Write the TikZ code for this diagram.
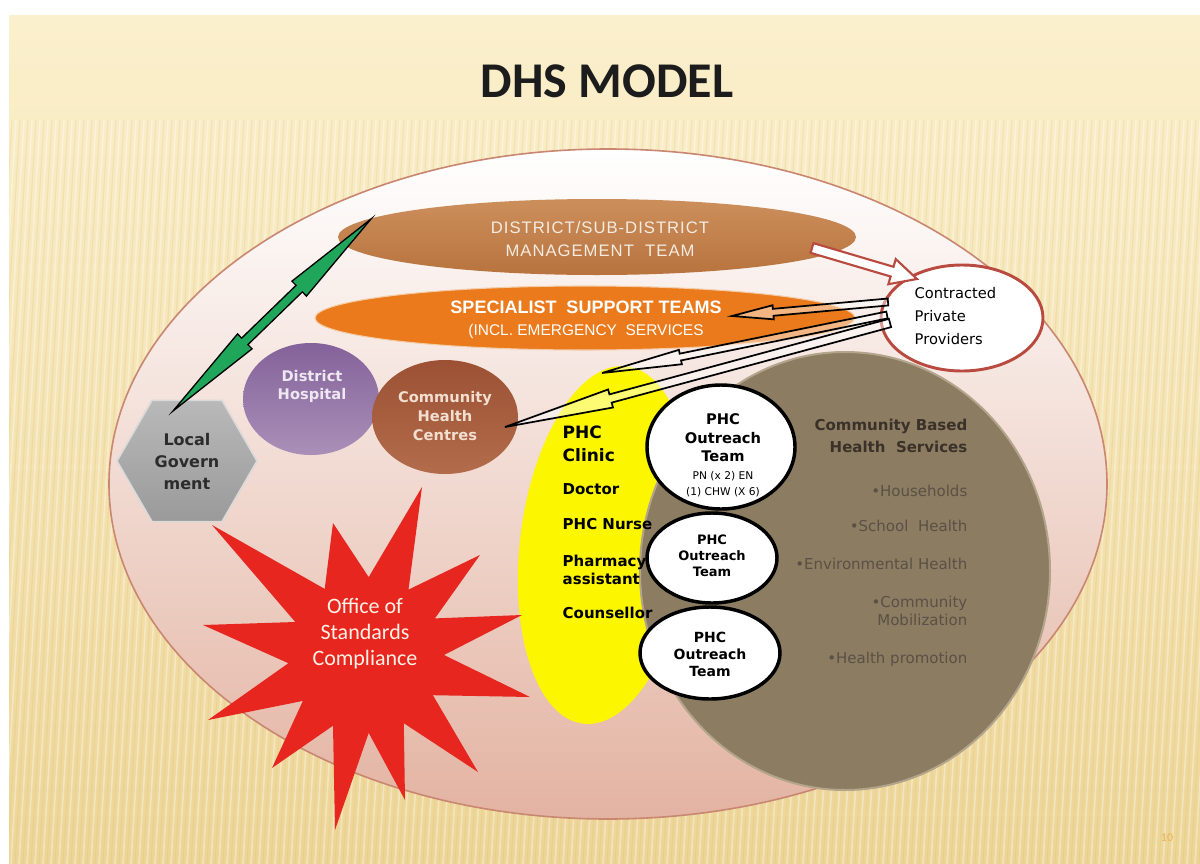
\documentclass[tikz,border=0pt]{standalone}
\usepackage{fontspec}
\setmainfont{DejaVu Sans}
\newfontfamily\carlito{Carlito}
\newfontfamily\libsans{Liberation Sans}
\newfontfamily\libspaced[LetterSpace=6]{Liberation Sans}
\usetikzlibrary{shapes.geometric,calc}

\definecolor{bgtop}{HTML}{FBF0CD}
\definecolor{bgbot}{HTML}{EDD596}
\definecolor{stripe}{HTML}{D9BC78}
\definecolor{titlecol}{HTML}{1C1C1C}
\definecolor{outerline}{HTML}{C98670}
\definecolor{outermid}{HTML}{F6E4DC}
\definecolor{outerpink}{HTML}{E3B3A2}
\definecolor{mgmttop}{HTML}{CC8F5C}
\definecolor{mgmtbot}{HTML}{B8733E}
\definecolor{mgmttext}{HTML}{F4ECE2}
\definecolor{sstfill}{HTML}{EA7A1C}
\definecolor{sstrim}{HTML}{F4CDA8}
\definecolor{dhtop}{HTML}{84629A}
\definecolor{dhbot}{HTML}{AA90B8}
\definecolor{dhtext}{HTML}{EEE8F2}
\definecolor{chctop}{HTML}{9C5134}
\definecolor{chcbot}{HTML}{B26C4C}
\definecolor{chctext}{HTML}{F2DFCF}
\definecolor{hextop}{HTML}{B9B9B9}
\definecolor{hexbot}{HTML}{9A9A9A}
\definecolor{hexline}{HTML}{DADADA}
\definecolor{hextext}{HTML}{2C2C2C}
\definecolor{phcyellow}{HTML}{FCF600}
\definecolor{cbhs}{HTML}{8C7C62}
\definecolor{cbhsedge}{HTML}{B3A48C}
\definecolor{cbhead}{HTML}{3A3128}
\definecolor{cbtext}{HTML}{5B5045}
\definecolor{starred}{HTML}{E6261F}
\definecolor{startext}{HTML}{FFF1E4}
\definecolor{cppline}{HTML}{B84A40}
\definecolor{greenarrow}{HTML}{1FA65A}
\definecolor{pagenum}{HTML}{E6B45C}

\tikzset{
  shapebox/.style={ellipse, inner sep=0pt},
  outreach/.style={ellipse, inner sep=0pt, fill=white, draw=black, line width=2.6pt},
  hollowblack/.style={draw=black, line width=1.3pt, fill=white, fill opacity=0.45, line join=miter},
  phcitem/.style={anchor=west, text=black, font=\bfseries\fontsize{11.25}{13}\selectfont},
  cbitem/.style={anchor=east, text=cbtext, font=\fontsize{11.25}{14}\selectfont},
  ortext/.style={align=center, text=black},
}

% hollow single arrow: style, tail, tip, half shaft width, half head width, head length
\newcommand{\harrow}[6]{%
  \coordinate (hN) at ($(#3)!#6!(#2)$);
  \draw[#1] ($(#2)!#4!90:(#3)$) -- ($(hN)!#4!90:(#3)$) -- ($(hN)!#5!90:(#3)$) -- (#3)
    -- ($(hN)!#5!-90:(#3)$) -- ($(hN)!#4!-90:(#3)$) -- ($(#2)!#4!-90:(#3)$) -- cycle;}
% double-headed arrow: style, end A, end B, half shaft width, half head width, head length
\newcommand{\dharrow}[6]{%
  \coordinate (dN1) at ($(#2)!#6!(#3)$);
  \coordinate (dN2) at ($(#3)!#6!(#2)$);
  \draw[#1] (#2) -- ($(dN1)!#5!90:(#3)$) -- ($(dN1)!#4!90:(#3)$) -- ($(dN2)!#4!90:(#3)$)
    -- ($(dN2)!#5!90:(#3)$) -- (#3) -- ($(dN2)!#5!-90:(#3)$) -- ($(dN2)!#4!-90:(#3)$)
    -- ($(dN1)!#4!-90:(#3)$) -- ($(dN1)!#5!-90:(#3)$) -- cycle;}

\begin{document}
\begin{tikzpicture}[x=0.75pt,y=-0.75pt]
\def\u{0.75pt}
\useasboundingbox (0,0) rectangle (1200,864);
\fill[white] (0,0) rectangle (1200,864);
% slide background
\shade[top color=bgtop, bottom color=bgbot] (9,15) rectangle (1200,864);
\begin{scope}
  \clip (9,120) rectangle (1200,864);
  \foreach \x in {0,8,...,1264} {
    \draw[white, opacity=0.35, line width=1.2pt] (\x,120) -- (\x-45,864);
    \draw[stripe, opacity=0.22, line width=0.8pt] (\x+4,120) -- (\x-41,864);
  }
\end{scope}

% title
\node[font=\carlito\bfseries\fontsize{37.5}{40}\selectfont, text=titlecol] (title) at (607,81) {DHS MODEL};

% big outer ellipse
\node[shapebox, minimum width=998*\u, minimum height=670*\u, draw=outerline, line width=1.2pt,
      top color=white, middle color=outermid, bottom color=outerpink] (outer) at (608,484) {};

% management team
\node[shapebox, minimum width=518*\u, minimum height=76*\u, top color=mgmttop, bottom color=mgmtbot] (mgmt) at (597,237) {};
\node[font=\libspaced\fontsize{12.5}{17.25}\selectfont, text=mgmttext, align=center] (mgmtT) at (600,239)
  {DISTRICT/SUB-DISTRICT\\MANAGEMENT\ \ TEAM};

% specialist support teams
\node[shapebox, minimum width=540*\u, minimum height=64*\u, fill=sstfill, draw=sstrim, line width=0.8pt] (sst) at (585,318) {};
\node[font=\libsans\fontsize{11.6}{16.5}\selectfont, text=white, align=center] (sstT) at (586,320)
  {{\bfseries\fontsize{13.5}{16.5}\selectfont SPECIALIST\ \ SUPPORT TEAMS}\\(INCL. EMERGENCY\ \ SERVICES};

% district hospital
\node[shapebox, minimum width=136*\u, minimum height=112*\u, top color=dhtop, bottom color=dhbot] (dh) at (311,399) {};
\node[font=\bfseries\fontsize{11}{13.5}\selectfont, text=dhtext, align=center] (dhT) at (312,386) {District\\Hospital};

% community health centre
\node[shapebox, minimum width=146*\u, minimum height=114*\u, top color=chctop, bottom color=chcbot] (chc) at (445,417) {};
\node[font=\bfseries\fontsize{11}{14.25}\selectfont, text=chctext, align=center] (chcT) at (445,416) {Community\\Health\\Centres};

% local government
\node[regular polygon, regular polygon sides=6, minimum size=140*\u, inner sep=0pt,
      top color=hextop, bottom color=hexbot, draw=hexline, line width=1.2pt] (lg) at (187,461) {};
\node[font=\bfseries\fontsize{12}{16.5}\selectfont, text=hextext, align=center] (lgT) at (187,462) {Local\\Govern\\ment};

% green double arrow between local government and management
\coordinate (gA) at (173,411);
\coordinate (gB) at (371,219);
\dharrow{fill=greenarrow, draw=black, line width=1pt, line join=miter}{gA}{gB}{3.4pt}{7.8pt}{75pt}

% PHC clinic (yellow)
\node[shapebox, minimum width=170*\u, minimum height=360*\u, fill=phcyellow, rotate=-7] (clinic) at (605,545) {};

% community based health services
\node[shapebox, minimum width=410*\u, minimum height=438*\u, fill=cbhs, draw=cbhsedge, line width=1.5pt] (cbhs) at (845,571) {};

% outreach teams
\node[outreach, minimum width=148*\u, minimum height=124*\u] (o1) at (721,447) {};
\node[outreach, minimum width=130*\u, minimum height=90*\u] (o2) at (712,558) {};
\node[outreach, minimum width=140*\u, minimum height=92*\u] (o3) at (710,653) {};

\node[ortext, font=\bfseries\fontsize{11}{13.9}\selectfont] (o1T) at (723,438) {PHC\\Outreach\\Team};
\node[ortext, font=\fontsize{8}{11.5}\selectfont] (o1S) at (723,484) {PN (x 2) EN\\(1) CHW (X 6)};
\node[ortext, font=\bfseries\fontsize{9.75}{12}\selectfont] (o2T) at (712,556) {PHC\\Outreach\\Team};
\node[ortext, font=\bfseries\fontsize{10.5}{12.75}\selectfont] (o3T) at (710,654) {PHC\\Outreach\\Team};

% PHC clinic staff
\node[phcitem, font=\bfseries\fontsize{12.75}{17}\selectfont, align=left] (phcT) at (558,444) {PHC\\Clinic};
\node[phcitem] (doc) at (558,489) {Doctor};
\node[phcitem] (nurse) at (558,524) {PHC Nurse};
\node[phcitem, align=left, font=\bfseries\fontsize{11.25}{14}\selectfont] (pharm) at (558,570) {Pharmacy\\assistant};
\node[phcitem] (couns) at (558,613) {Counsellor};

% community based services text
\node[anchor=east, align=right, text=cbhead, font=\bfseries\fontsize{11.25}{16.5}\selectfont] (cbT) at (972,436) {Community Based\\Health\ \ Services};
\node[cbitem] (b1) at (972,491) {•Households};
\node[cbitem] (b2) at (972,526) {•School\ \ Health};
\node[cbitem] (b3) at (972,564) {•Environmental Health};
\node[cbitem, align=right] (b4) at (972,611) {•Community\\Mobilization};
\node[cbitem] (b5) at (972,659) {•Health promotion};

% office of standards compliance (star)
\fill[starred] (422,487) -- (408.5,589.6) -- (480,555) -- (434.9,618.4) -- (522,615) -- (444,655)
  -- (530,697) -- (432.9,695.2) -- (478,772) -- (403.8,723.2) -- (405,800) -- (368.7,732.9)
  -- (335,830) -- (333,725.7) -- (272,768) -- (302.9,700.9) -- (208,720) -- (288.4,663.2)
  -- (203,625) -- (295.3,622) -- (212,525) -- (324.7,588.9) -- (333,523) -- (368.7,577.1) -- cycle;
\node[font=\carlito\fontsize{16.5}{19.5}\selectfont, text=startext, align=center] (osc) at (365,634)
  {Office of\\Standards\\Compliance};

% contracted private providers
\node[shapebox, minimum width=162*\u, minimum height=106*\u, fill=white, draw=cppline, line width=2.2pt] (cpp) at (962,318) {};
\node[anchor=west, align=left, font=\fontsize{11}{16.9}\selectfont, text=black] (cppT) at (910,316) {Contracted\\Private\\Providers};

% red hollow arrow: management -> contracted providers
\coordinate (rA) at (812,248);
\coordinate (rB) at (917,279);
\harrow{draw=cppline, fill=white, line width=1.6pt, line join=miter}{rA}{rB}{3.8pt}{9.8pt}{19.5pt}

% black hollow arrows: contracted providers -> services
\coordinate (k1A) at (888,302);
\coordinate (k1B) at (732,316);
\coordinate (k2A) at (887,315);
\coordinate (k2B) at (602,373);
\coordinate (k3A) at (890,323);
\coordinate (k3B) at (505,427);
\harrow{hollowblack}{k1A}{k1B}{2.6pt}{5.3pt}{31pt}
\harrow{hollowblack}{k2A}{k2B}{2.6pt}{5.5pt}{60pt}
\harrow{hollowblack}{k3A}{k3B}{3.2pt}{7pt}{82pt}

% page number
\node[font=\carlito\fontsize{9}{10}\selectfont, text=pagenum] (pg) at (1167,838) {10};
\end{tikzpicture}
\end{document}
